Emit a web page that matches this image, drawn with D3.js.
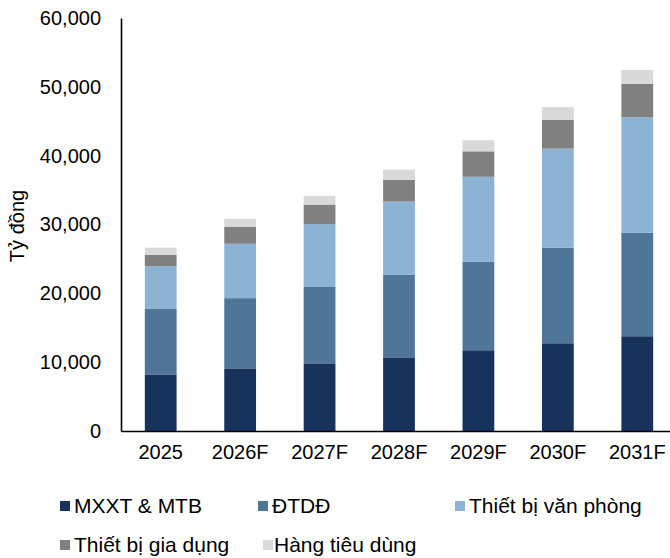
<html>
<head>
<meta charset="utf-8">
<script src="https://d3js.org/d3.v7.min.js"></script>
<style>
  body { margin: 0; background: #fff; }
  text { font-family: "Liberation Sans", Arial, sans-serif; fill: #000; }
</style>
</head>
<body>
<div id="chart"></div>
<script>
// data (tỷ đồng)
var years = ["2025", "2026F", "2027F", "2028F", "2029F", "2030F", "2031F"];
var seriesNames = ["MXXT & MTB", "ĐTDĐ", "Thiết bị văn phòng", "Thiết bị gia dụng", "Hàng tiêu dùng"];
var mxxt   = [8220, 9100, 9830, 10700, 11730, 12750, 13770];
var dtdd   = [9500, 10200, 11090, 11980, 12840, 13870, 15040];
var tbvp   = [6200, 7900, 9150, 10650, 12360, 14400, 16790];
var tbgd   = [1650, 2480, 2830, 3170, 3700, 4180, 4810];
var htd    = [1070, 1120, 1260, 1460, 1610, 1860, 2050];
var yTicks = [0, 10000, 20000, 30000, 40000, 50000, 60000];
var colors = ["#17325b", "#4f7698", "#8cb2d4", "#808080", "#d9d9d9"];

var W = 670, H = 558;
var m = { left: 121, top: 18, bottom: 431, right: 677 };

var table = years.map(function(y, i) {
  return { year: y, "MXXT & MTB": mxxt[i], "ĐTDĐ": dtdd[i], "Thiết bị văn phòng": tbvp[i],
           "Thiết bị gia dụng": tbgd[i], "Hàng tiêu dùng": htd[i] };
});

var svg = d3.select("#chart").append("svg").attr("width", W).attr("height", H);

var x = d3.scaleBand().domain(years).range([m.left, m.right]).paddingInner(0.6).paddingOuter(0.3);
var y = d3.scaleLinear().domain([0, 60000]).range([m.bottom, m.top]);

var stacked = d3.stack().keys(seriesNames)(table);

svg.selectAll("g.layer")
  .data(stacked).enter()
  .append("g")
    .attr("class", "layer")
    .attr("fill", function(d, i) { return colors[i]; })
  .selectAll("rect")
  .data(function(d) { return d; }).enter()
  .append("rect")
    .attr("x", function(d) { return x(d.data.year); })
    .attr("width", x.bandwidth())
    .attr("y", function(d) { return y(d[1]); })
    .attr("height", function(d) { return y(d[0]) - y(d[1]); });

// y axis
var yAxis = svg.append("g")
  .attr("transform", "translate(" + m.left + ",0)")
  .call(d3.axisLeft(y).tickValues(yTicks).tickSize(0).tickPadding(20)
    .tickFormat(d3.format(",")));
yAxis.select(".domain").attr("stroke", "#000").attr("stroke-width", 1.6);
yAxis.selectAll("text").style("font-size", "20px").style("font-family", "Liberation Sans, Arial, sans-serif");

// x axis
var xAxis = svg.append("g")
  .attr("transform", "translate(0," + m.bottom + ")")
  .call(d3.axisBottom(x).tickSize(0).tickPadding(14));
xAxis.select(".domain").attr("stroke", "#000").attr("stroke-width", 1.6);
xAxis.selectAll("text").style("font-size", "20px").style("font-family", "Liberation Sans, Arial, sans-serif");

svg.append("text")
  .attr("transform", "translate(24,226) rotate(-90)")
  .attr("text-anchor", "middle")
  .style("font-size", "20px")
  .text("Tỷ đồng");

// legend
var legendPos = [[60, 506], [258, 506], [455, 506], [60, 545], [263, 545]];
var legend = svg.selectAll("g.legend")
  .data(seriesNames).enter()
  .append("g")
    .attr("class", "legend")
    .attr("transform", function(d, i) { return "translate(" + legendPos[i][0] + "," + legendPos[i][1] + ")"; });
legend.append("rect")
  .attr("x", 0).attr("y", -5).attr("width", 10).attr("height", 10)
  .attr("fill", function(d, i) { return colors[i]; });
legend.append("text")
  .attr("x", function(d, i) { return i == 4 ? 11 : 14; })
  .attr("dy", "0.35em")
  .style("font-size", "21px")
  .text(function(d) { return d; });
</script>
</body>
</html>
